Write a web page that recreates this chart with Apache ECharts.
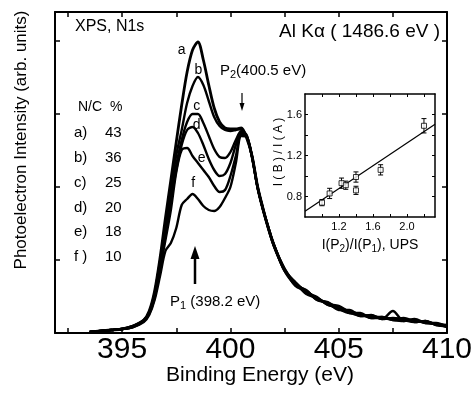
<!DOCTYPE html>
<html>
<head>
<meta charset="utf-8">
<script src="https://cdn.jsdelivr.net/npm/echarts@6/dist/echarts.min.js"></script>
<style>
html,body{margin:0;padding:0;background:#fff;}
#chart{width:476px;height:396px;}
</style>
</head>
<body>
<div id="chart"></div>
<script>
// Binding energy (eV)
const energy = [393.5,394,394.5,395,395.5,396,396.25,396.5,396.75,397,397.25,397.5,397.75,398,398.25,398.5,398.75,399,399.25,399.5,399.75,400,400.25,400.5,400.75,401,401.25,401.5,401.75,402,402.5,403,403.5,404,404.5,405,405.5,406,406.5,407,407.5,408,408.5,409,409.5,410];
// Photoelectron intensity (arb. units), N/C = 43, 36, 25, 20, 18, 10 %
const curveA = [1,2,3,4,7,13,22,42,75,115,153,191,228,261,283,291,273,248,225,211,205,204,204,205,195,177,147,125,105,88,64,49,42,34,30,24,22,18,17,15,14,13,12,11,9,7];
const curveB = [1,2,3,4,7,13,21,40,72,108,145,178,203,230,247,256,248,232,216,207,203,202,203,204,196,176,146,124,106,89,63,50,40,35,28,25,20,19,15,16,13,14,11,12,8,7];
const curveC = [1,2,3,4,7,12,20,38,69,101,137,168,193,211,219,219,210,197,184,176,175,181,193,202,197,176,145,123,104,88,62,48,43,33,30,23,23,17,18,14,22,12,13,10,10,6];
const curveD = [1,2,3,4,6,12,20,37,67,97,131,163,188,203,206,200,188,174,163,157,159,170,188,201,198,175,146,125,105,87,63,51,41,36,28,26,21,19,16,16,14,15,12,11,9,8];
const curveE = [1,2,3,4,6,12,19,35,64,93,123,161,183,185,177,170,163,156,147,141,143,157,177,199,197,177,147,124,106,88,64,47,42,33,31,24,20,20,15,15,13,12,14,10,9,6];
const curveF = [1,2,3,4,6,11,18,33,57,82,90,105,128,134,139,134,127,123,122,126,135,146,170,197,196,176,146,124,105,89,62,50,39,35,29,27,21,17,17,14,15,13,11,12,8,7];
const curveNames = ['a','b','c','d','e','f'];
const ncLabels = ['a)','b)','c)','d)','e)','f )'];
const ncValues = ['43','36','25','20','18','10'];
const xTickLabels = [395,400,405,410];
const xTicks = [392.5,395,397.5,400,402.5,405,407.5,410];

// Inset: I(P2)/I(P1) (UPS) vs I(B)/I(A)
const insetX = [1.00,1.09,1.23,1.28,1.40,1.40,1.69,2.20];
const insetY = [0.74,0.83,0.93,0.91,0.99,0.86,1.06,1.49];
const insetErr = [0.03,0.05,0.05,0.04,0.05,0.04,0.05,0.07];
const fitX = [0.8,2.33];
const fitY = [0.655,1.505];
const insetXLabels = [1.2,1.6,2.0];
const insetXTicks = [1.0,1.2,1.4,1.6,1.8,2.0,2.2];
const insetYLabels = [0.8,1.2,1.6];
const insetYTicks = [0.8,1.0,1.2,1.4,1.6];

const FF = "'Liberation Sans', Arial, sans-serif";
const chart = echarts.init(document.getElementById('chart'), null, {renderer:'canvas'});
const curves = [curveA,curveB,curveC,curveD,curveE,curveF];

const black = '#000';
function axisBase(extra){
  return Object.assign({
    type:'value', splitLine:{show:false},
    axisLine:{show:true, onZero:false, lineStyle:{color:black, width:2}},
    axisTick:{show:true, inside:true, length:5, lineStyle:{color:black, width:1.5}},
    axisLabel:{show:false}
  }, extra);
}

const series = curves.map((c,k)=>({
  type:'line', name:curveNames[k], xAxisIndex:0, yAxisIndex:0,
  data: energy.map((e,i)=>[e,c[i]]),
  showSymbol:false, symbol:'none', smooth:0.3,
  lineStyle:{color:black, width: k===0 ? 2.8 : 2.4},
  z:3, silent:true
}));

series.push({
  type:'line', xAxisIndex:2, yAxisIndex:2,
  data: fitX.map((x,i)=>[x,fitY[i]]),
  showSymbol:false, symbol:'none', lineStyle:{color:black, width:1.2}, z:4, silent:true
});
series.push({
  type:'custom', xAxisIndex:2, yAxisIndex:2, coordinateSystem:'cartesian2d',
  data: insetX.map((x,i)=>[x,insetY[i],insetErr[i]]),
  encode:{x:0,y:1},
  renderItem:function(params, api){
    const x=api.value(0), y=api.value(1), e=api.value(2);
    const t=api.coord([x,y+e]), b=api.coord([x,y-e]);
    const w=2.5, st={stroke:black, lineWidth:1};
    return {type:'group', children:[
      {type:'line', shape:{x1:t[0],y1:t[1],x2:b[0],y2:b[1]}, style:st},
      {type:'line', shape:{x1:t[0]-w,y1:t[1],x2:t[0]+w,y2:t[1]}, style:st},
      {type:'line', shape:{x1:b[0]-w,y1:b[1],x2:b[0]+w,y2:b[1]}, style:st}
    ]};
  }, z:5, silent:true
});
series.push({
  type:'scatter', xAxisIndex:2, yAxisIndex:2,
  data: insetX.map((x,i)=>[x,insetY[i]]),
  symbol:'rect', symbolSize:5,
  itemStyle:{color:'#fff', borderColor:black, borderWidth:1},
  z:6, silent:true
});

function txt(text, x, y, size, opts){
  opts = opts || {};
  return {type:'text', x:x, y:y, rotation:opts.rotation||0, z:100,
    style:Object.assign({text:text, fontSize:size, fontFamily:FF, fill:black,
      align:opts.align||'left', verticalAlign:'middle'}, opts.style||{})};
}
const subRich = function(size){ return {
  n:{fontSize:size, fontFamily:FF, fill:black},
  s:{fontSize:Math.round(size*0.7), fontFamily:FF, fill:black, padding:[Math.round(size*0.55),0,0,0]}
};};

const graphics = [
  txt('XPS, N1s', 75, 27, 16),
  txt('Al K\u03b1 ( 1486.6 eV )', 440, 32, 19, {align:'right'}),
  txt('N/C  %', 78, 107, 14),
  {type:'text', x:220, y:71, z:100, style:{text:'{n|P}{s|2}{n|(400.5 eV)}', rich:subRich(15), align:'left', verticalAlign:'middle'}},
  {type:'text', x:170, y:302, z:100, style:{text:'{n|P}{s|1}{n| (398.2 eV)}', rich:subRich(15), align:'left', verticalAlign:'middle'}},
  // P2 arrow
  {type:'line', z:100, shape:{x1:242,y1:93,x2:242,y2:105}, style:{stroke:black, lineWidth:1.2}},
  {type:'polygon', z:100, shape:{points:[[239.5,103],[244.5,103],[242,111]]}, style:{fill:black}},
  // P1 arrow
  {type:'line', z:100, shape:{x1:195,y1:284,x2:195,y2:257}, style:{stroke:black, lineWidth:2.5}},
  {type:'polygon', z:100, shape:{points:[[190.5,259],[199.5,259],[195,246]]}, style:{fill:black}},
  // axis titles
  txt('Photoelectron Intensity (arb. units)', 21, 140, 17, {align:'center', rotation:Math.PI/2}),
  txt('Binding Energy (eV)', 260, 375, 21, {align:'center'}),
  txt('I ( B ) / I ( A )', 279, 152, 12, {align:'center', rotation:Math.PI/2}),
  {type:'text', x:370, y:245, z:100, style:{text:'{n|I(P}{s|2}{n|)/I(P}{s|1}{n|), UPS}', rich:subRich(14), align:'center', verticalAlign:'middle'}}
];
const curveLabelPos = [[181.7,50],[198.3,70],[196.7,106],[196.7,125],[201.7,158],[193.3,183]];
curveNames.forEach((n,k)=>graphics.push(txt(n, curveLabelPos[k][0], curveLabelPos[k][1], 14, {align:'center'})));
ncLabels.forEach((l,k)=>{
  const y = 133 + k*24.8;
  graphics.push(txt(l, 74, y, 15));
  graphics.push(txt(ncValues[k], 105, y, 15));
});

const option = {
  animation:false,
  backgroundColor:'#fff',
  grid:[
    {left:55, top:12, width:392, height:321, containLabel:false},
    {left:305, top:94, width:130, height:123, containLabel:false, backgroundColor:'#fff', show:true, borderWidth:0}
  ],
  xAxis:[
    axisBase({gridIndex:0, position:'bottom', min:391.9, max:410,
      axisTick:{show:true, inside:true, length:5, customValues:xTicks, lineStyle:{color:black, width:1.5}},
      axisLabel:{show:true, customValues:xTickLabels, fontSize:30, fontFamily:FF, color:black, margin:2}}),
    axisBase({gridIndex:0, position:'top', min:391.9, max:410,
      axisTick:{show:true, inside:true, length:5, customValues:xTicks, lineStyle:{color:black, width:1.5}}}),
    axisBase({gridIndex:1, position:'bottom', min:0.8, max:2.33,
      axisLine:{show:true, onZero:false, lineStyle:{color:black, width:1.5}},
      axisTick:{show:true, inside:true, length:3, customValues:insetXTicks, lineStyle:{color:black, width:1}},
      axisLabel:{show:true, customValues:insetXLabels, fontSize:11, fontFamily:FF, color:black, margin:4,
        formatter:v=>Number(v).toFixed(1)}}),
    axisBase({gridIndex:1, position:'top', min:0.8, max:2.33,
      axisLine:{show:true, onZero:false, lineStyle:{color:black, width:1.5}},
      axisTick:{show:true, inside:true, length:3, customValues:insetXTicks, lineStyle:{color:black, width:1}}})
  ],
  yAxis:[
    axisBase({gridIndex:0, position:'left', min:0, max:321, interval:73}),
    axisBase({gridIndex:0, position:'right', min:0, max:321, interval:73}),
    axisBase({gridIndex:1, position:'left', min:0.6, max:1.8,
      axisLine:{show:true, onZero:false, lineStyle:{color:black, width:1.5}},
      axisTick:{show:true, inside:true, length:3, customValues:insetYTicks, lineStyle:{color:black, width:1}},
      axisLabel:{show:true, customValues:insetYLabels, fontSize:11, fontFamily:FF, color:black, margin:3,
        formatter:v=>Number(v).toFixed(1)}}),
    axisBase({gridIndex:1, position:'right', min:0.6, max:1.8,
      axisLine:{show:true, onZero:false, lineStyle:{color:black, width:1.5}},
      axisTick:{show:true, inside:true, length:3, customValues:insetYTicks, lineStyle:{color:black, width:1}}})
  ],
  series:series,
  graphic:graphics
};
chart.setOption(option);
</script>
</body>
</html>
